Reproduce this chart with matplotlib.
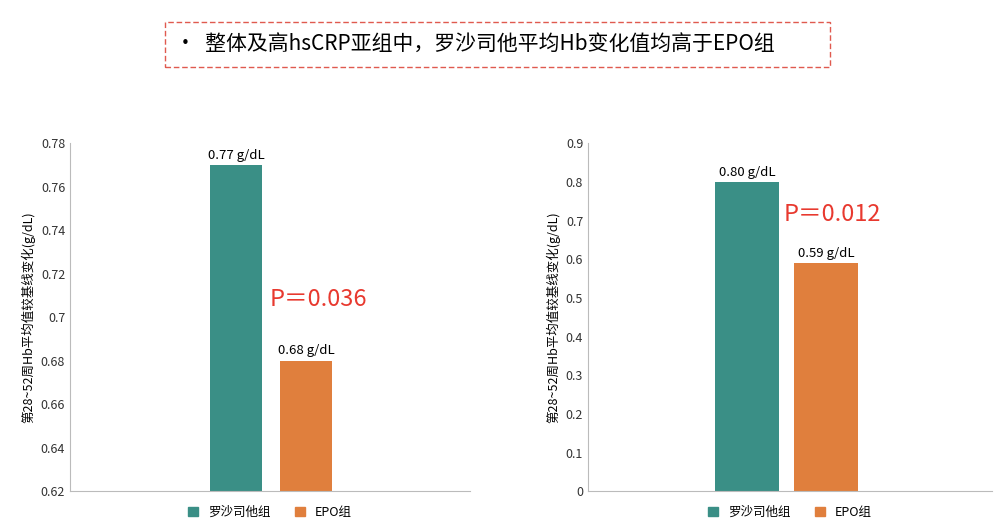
import matplotlib.pyplot as plt
from matplotlib.patches import Rectangle
plt.rcParams['font.family'] = ['Noto Sans CJK SC', 'DejaVu Sans']

groups = ['罗沙司他组', 'EPO组']
left_vals = [0.77, 0.68]
right_vals = [0.80, 0.59]
left_labels = ['0.77 g/dL', '0.68 g/dL']
right_labels = ['0.80 g/dL', '0.59 g/dL']
colors = ['#3a8f86', '#e07f3d']
title = '•  整体及高hsCRP亚组中，罗沙司他平均Hb变化值均高于EPO组'
ylabel = '第28~52周Hb平均值较基线变化(g/dL)'

fig = plt.figure(figsize=(10, 5.27), dpi=100)
fig.patches.append(Rectangle((0.165, 0.873), 0.665, 0.085, transform=fig.transFigure,
                             fill=False, ec='#e05a4f', ls=(0, (4, 2)), lw=1))
fig.text(0.175, 0.915, title, fontsize=15, va='center', ha='left')

def panel(rect, vals, labels, xs, w, ylim, ticks, fmt, ptext, ppos):
    ax = fig.add_axes(rect)
    bars = ax.bar(xs, vals, width=w, color=colors, bottom=ylim[0] if ylim[0] > 0 else 0)
    for b, v in zip(bars, vals):
        b.set_height(v - ylim[0])
    for x, v, l in zip(xs, vals, labels):
        ax.text(x, v + (ylim[1] - ylim[0]) * 0.01, l, ha='center', va='bottom', fontsize=9.5)
    ax.set_xlim(0, 1)
    ax.set_ylim(*ylim)
    ax.set_yticks(ticks)
    ax.set_yticklabels([fmt(t) for t in ticks], fontsize=9)
    ax.set_xticks([])
    for s in ['top', 'right']:
        ax.spines[s].set_visible(False)
    for s in ['left', 'bottom']:
        ax.spines[s].set_color('#bbbbbb')
    ax.tick_params(axis='y', length=0, colors='#333333')
    ax.set_ylabel(ylabel, fontsize=9)
    ax.text(ppos[0], ppos[1], ptext, color='#e8392f', fontsize=17, transform=ax.transAxes, va='center')
    handles = [Rectangle((0, 0), 1, 1, color=c) for c in colors]
    ax.legend(handles, groups, loc='upper center', bbox_to_anchor=(0.5, -0.01), ncol=2,
              frameon=False, fontsize=9, handlelength=0.8, handleheight=0.8)
    return ax

def fmt_left(t):
    return f'{t:.2f}'.rstrip('0') if t != 0.70 else '0.7'

panel([0.07, 0.068, 0.40, 0.66], left_vals, left_labels, [0.415, 0.59], 0.13,
      (0.62, 0.78), [0.62 + 0.02 * i for i in range(9)],
      lambda t: ('%.2f' % t).rstrip('0').rstrip('.'), 'P＝0.036', (0.5, 0.55))
panel([0.588, 0.068, 0.404, 0.66], right_vals, right_labels, [0.394, 0.589], 0.158,
      (0, 0.9), [0.1 * i for i in range(10)],
      lambda t: ('%.1f' % t).rstrip('0').rstrip('.') if t else '0', 'P＝0.012', (0.485, 0.795))

fig.savefig('out.png', dpi=100)
